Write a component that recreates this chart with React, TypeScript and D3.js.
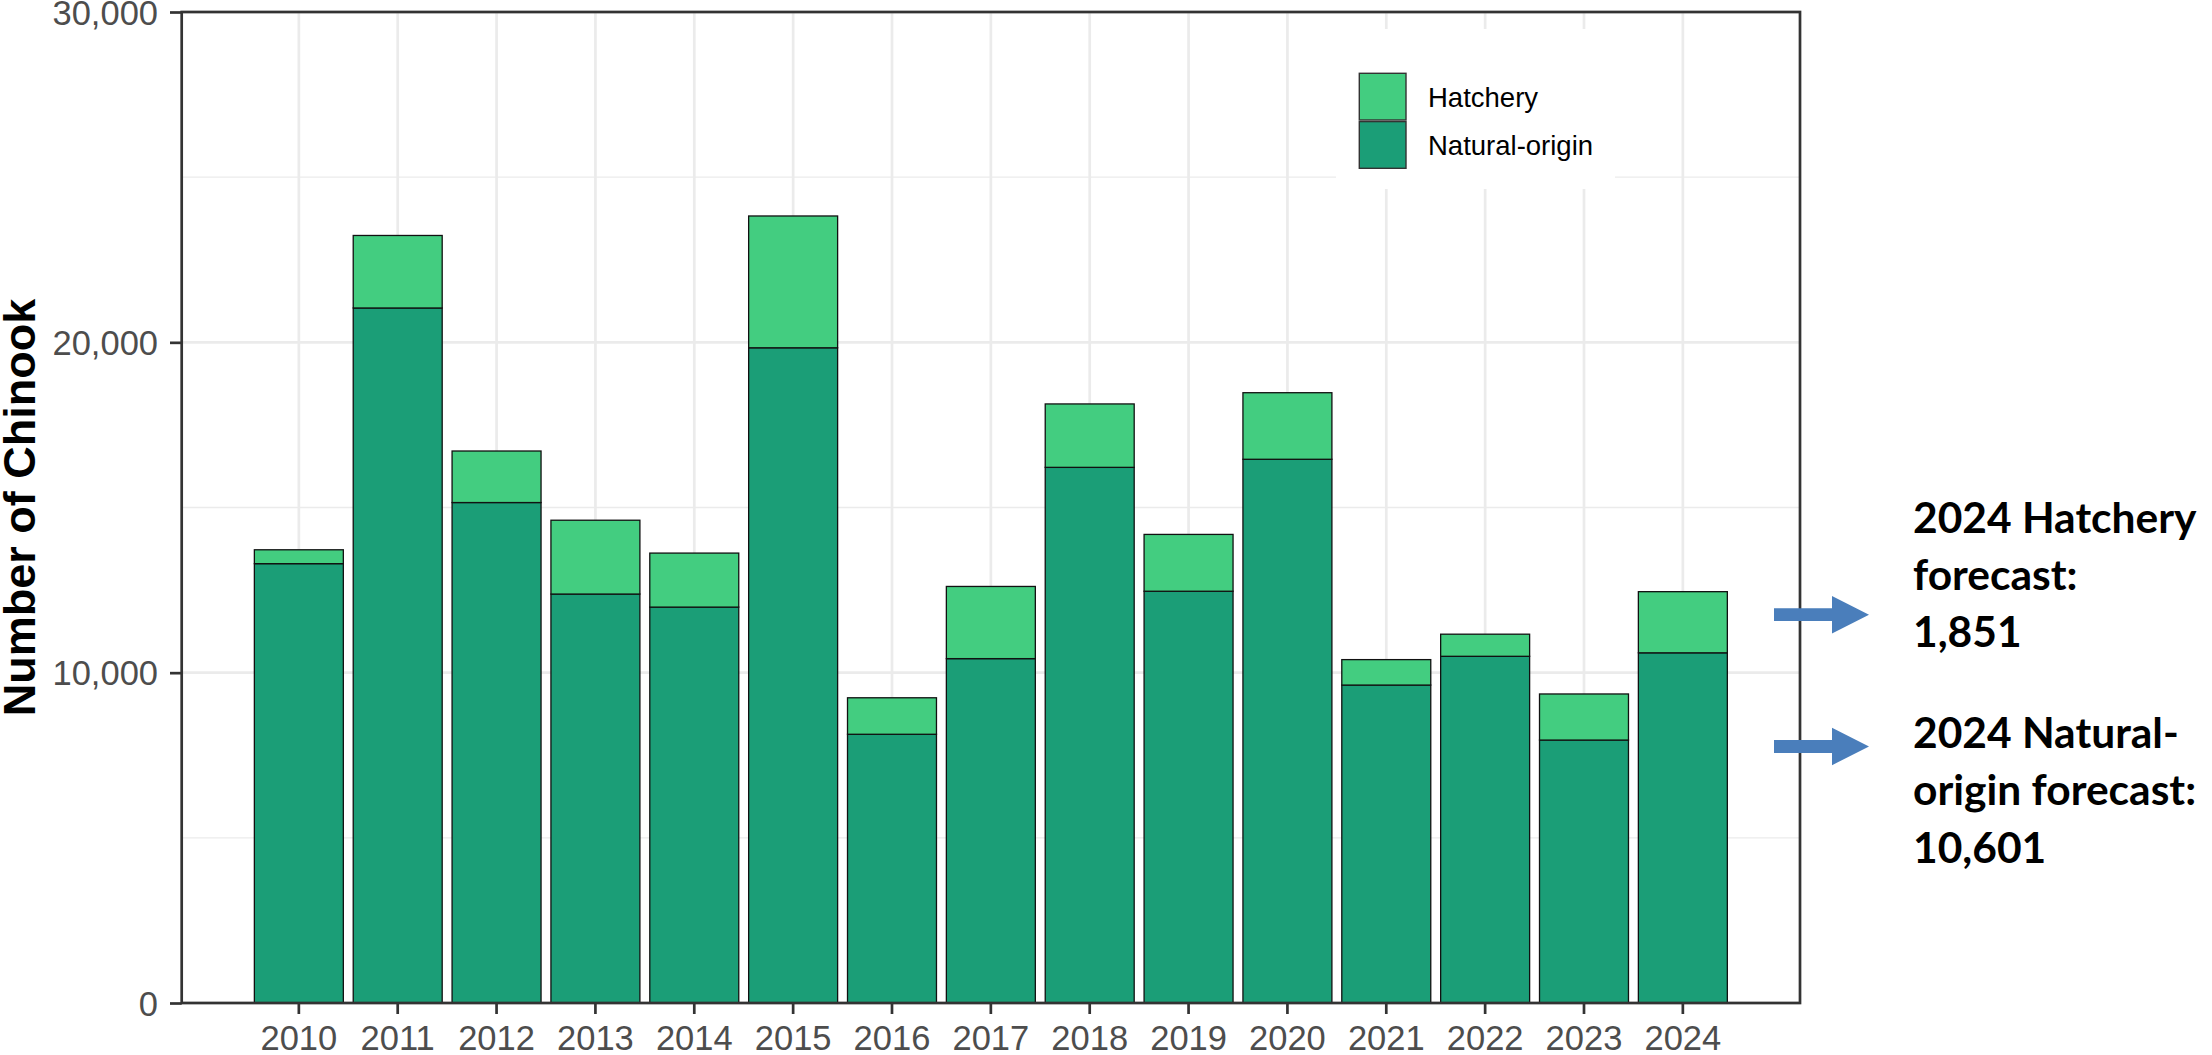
import { useEffect, useRef } from 'react';
import * as d3 from 'd3';

const years = ['2010', '2011', '2012', '2013', '2014', '2015', '2016', '2017', '2018', '2019', '2020', '2021', '2022', '2023', '2024'];
const naturalOrigin = [13300, 21040, 15150, 12380, 11985, 19835, 8135, 10425, 16215, 12465, 16460, 9625, 10495, 7960, 10601];
const hatchery = [420, 2195, 1560, 2235, 1635, 3990, 1105, 2185, 1920, 1720, 2015, 770, 670, 1395, 1851];
const yTicks = [0, 10000, 20000, 30000];
const yMinorTicks = [5000, 15000, 25000];
const seriesNames = ['Hatchery', 'Natural-origin'];
const seriesColors = ['#43CD80', '#1B9E77'];
const notes = [
  ['2024 Hatchery', 'forecast:', '1,851'],
  ['2024 Natural-', 'origin forecast:', '10,601'],
];

const App = () => {
  const chartRef = useRef<SVGSVGElement | null>(null);

  useEffect(() => {
    if (!chartRef.current) return;
    const svg = d3.select(chartRef.current);
    svg.selectAll('*').remove();

    const panel = { left: 181.7, right: 1800, top: 12, bottom: 1003 };

    const x = d3.scaleBand<string>()
      .domain(years)
      .range([panel.left, panel.right])
      .paddingInner(0.1)
      .paddingOuter(0.735);

    const y = d3.scaleLinear()
      .domain([0, 30000])
      .range([panel.bottom, panel.top]);

    const grid = svg.append('g');
    // minor horizontal
    grid.selectAll('line.minor')
      .data(yMinorTicks)
      .join('line')
      .attr('x1', panel.left).attr('x2', panel.right)
      .attr('y1', d => y(d)).attr('y2', d => y(d))
      .attr('stroke', '#EBEBEB').attr('stroke-width', 1.4);
    // major horizontal
    grid.selectAll('line.major')
      .data(yTicks)
      .join('line')
      .attr('x1', panel.left).attr('x2', panel.right)
      .attr('y1', d => y(d)).attr('y2', d => y(d))
      .attr('stroke', '#EBEBEB').attr('stroke-width', 2.7);
    // vertical
    grid.selectAll('line.vert')
      .data(years)
      .join('line')
      .attr('x1', d => (x(d) as number) + x.bandwidth() / 2)
      .attr('x2', d => (x(d) as number) + x.bandwidth() / 2)
      .attr('y1', panel.top).attr('y2', panel.bottom)
      .attr('stroke', '#EBEBEB').attr('stroke-width', 2.7);

    // stacked bars
    const bars = svg.append('g');
    years.forEach((yr, i) => {
      const n = naturalOrigin[i];
      const h = hatchery[i];
      bars.append('rect')
        .attr('x', x(yr) as number)
        .attr('y', y(n))
        .attr('width', x.bandwidth())
        .attr('height', y(0) - y(n))
        .attr('fill', seriesColors[1])
        .attr('stroke', '#111')
        .attr('stroke-width', 1.3);
      bars.append('rect')
        .attr('x', x(yr) as number)
        .attr('y', y(n + h))
        .attr('width', x.bandwidth())
        .attr('height', y(n) - y(n + h))
        .attr('fill', seriesColors[0])
        .attr('stroke', '#111')
        .attr('stroke-width', 1.3);
    });

    // legend
    const legend = svg.append('g');
    legend.append('rect')
      .attr('x', 1336).attr('y', 29)
      .attr('width', 279).attr('height', 160)
      .attr('fill', '#fff');
    seriesNames.forEach((name, i) => {
      const ky = 73.3 + i * 48.3;
      legend.append('rect')
        .attr('x', 1359.3).attr('y', ky)
        .attr('width', 46.7).attr('height', 46.7)
        .attr('fill', seriesColors[i])
        .attr('stroke', '#333')
        .attr('stroke-width', 1.4);
      legend.append('text')
        .attr('x', 1428)
        .attr('y', ky + 24)
        .attr('dominant-baseline', 'central')
        .style('font-family', '"Liberation Sans", Arial, sans-serif')
        .style('font-size', '27.5px')
        .attr('fill', '#000')
        .text(name);
    });

    // panel border
    svg.append('rect')
      .attr('x', panel.left).attr('y', panel.top)
      .attr('width', panel.right - panel.left)
      .attr('height', panel.bottom - panel.top)
      .attr('fill', 'none')
      .attr('stroke', '#333333')
      .attr('stroke-width', 2.7);

    // y axis
    const yAxis = svg.append('g')
      .attr('transform', `translate(${panel.left}, 0)`)
      .call(d3.axisLeft(y).tickValues(yTicks).tickSize(11.7).tickPadding(12).tickFormat(d3.format(',') as any));
    yAxis.select('.domain').remove();
    yAxis.selectAll('line').attr('stroke', '#333333').attr('stroke-width', 2.7);
    yAxis.selectAll('text')
      .attr('fill', '#4D4D4D')
      .attr('dy', '0.35em')
      .style('font-family', '"Liberation Sans", Arial, sans-serif')
      .style('font-size', '34.5px');

    // x axis
    const xAxis = svg.append('g')
      .attr('transform', `translate(0, ${panel.bottom})`)
      .call(d3.axisBottom(x).tickSize(11).tickPadding(12));
    xAxis.select('.domain').remove();
    xAxis.selectAll('line').attr('stroke', '#333333').attr('stroke-width', 2.7);
    xAxis.selectAll('text')
      .attr('fill', '#4D4D4D')
      .style('font-family', '"Liberation Sans", Arial, sans-serif')
      .style('font-size', '34.5px');

    // y title
    svg.append('text')
      .attr('transform', `translate(35, ${(panel.top + panel.bottom) / 2}) rotate(-90)`)
      .attr('text-anchor', 'middle')
      .style('font-family', '"Liberation Sans", Arial, sans-serif')
      .style('font-size', '45px')
      .style('font-weight', 'bold')
      .attr('fill', '#000')
      .text('Number of Chinook');

    // arrows + notes
    const arrowYs = [614.7, 746.5];
    const baselines = [[532.7, 590, 646.7], [748.3, 805, 863.3]];
    arrowYs.forEach((cy, i) => {
      const p = d3.path();
      p.moveTo(1774, cy - 6.4);
      p.lineTo(1832, cy - 6.4);
      p.lineTo(1832, cy - 18.7);
      p.lineTo(1869, cy);
      p.lineTo(1832, cy + 18.7);
      p.lineTo(1832, cy + 6.4);
      p.lineTo(1774, cy + 6.4);
      p.closePath();
      svg.append('path').attr('d', p.toString()).attr('fill', '#4A7EBB');

      const t = svg.append('text')
        .style('font-family', 'Lato, "Open Sans", sans-serif')
        .style('font-size', '42.5px')
        .style('font-weight', 'bold')
        .attr('fill', '#000');
      notes[i].forEach((line, j) => {
        t.append('tspan').attr('x', 1913).attr('y', baselines[i][j]).text(line);
      });
    });
  }, []);

  return (
    <svg
      ref={chartRef}
      width={2212}
      height={1055}
      style={{ position: 'absolute', left: 0, top: 0, display: 'block', background: '#fff' }}
    ></svg>
  );
};

export default App;
